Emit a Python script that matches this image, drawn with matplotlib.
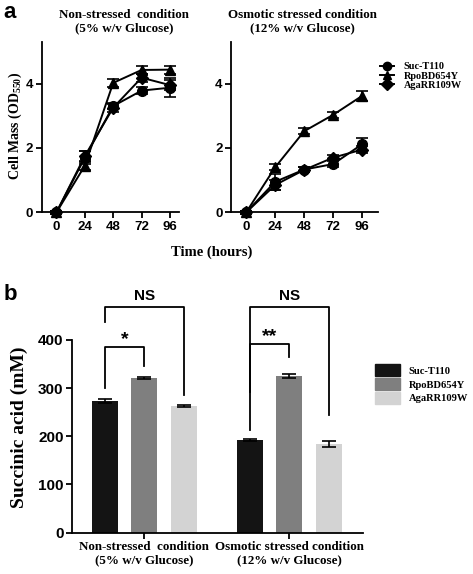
import numpy as np
import matplotlib
matplotlib.use("Agg")
from matplotlib import pyplot as plt
from matplotlib.patches import Patch
from matplotlib.lines import Line2D

plt.rcParams['mathtext.fontset'] = 'custom'
plt.rcParams['mathtext.rm'] = 'Liberation Serif:bold'
plt.rcParams['mathtext.default'] = 'rm'

SERIF = 'Liberation Serif'
SANS = 'Liberation Sans'

# growth curves (panel a)
hours = [0, 24, 48, 72, 96]
strains = ['Suc-T110', 'RpoBD654Y', 'AgaRR109W']
markers = ['o', '^', 'D']

non_mean = [[0, 1.70, 3.30, 3.78, 3.87],
            [0, 1.45, 4.02, 4.42, 4.43],
            [0, 1.75, 3.25, 4.18, 3.95]]
non_err = [[0.05, 0.20, 0.10, 0.10, 0.30],
           [0.05, 0.12, 0.12, 0.13, 0.12],
           [0.05, 0.15, 0.12, 0.12, 0.15]]
osm_mean = [[0, 0.95, 1.33, 1.50, 2.12],
            [0, 1.40, 2.52, 3.03, 3.62],
            [0, 0.85, 1.32, 1.70, 1.95]]
osm_err = [[0.05, 0.25, 0.08, 0.10, 0.20],
           [0.05, 0.10, 0.10, 0.10, 0.15],
           [0.05, 0.15, 0.08, 0.08, 0.12]]

# succinic acid (panel b)
conditions = ['Non-stressed  condition\n(5% w/v Glucose)',
              'Osmotic stressed condition\n(12% w/v Glucose)']
succ_mean = [[273, 192], [321, 326], [263, 184]]
succ_err = [[4, 2], [2, 4], [2, 6]]
bar_colors = ['#141414', '#7f7f7f', '#d3d3d3']

fig = plt.figure(figsize=(4.73, 5.74), dpi=100)


def style_axes(ax, ticksize):
    for s in ['top', 'right']:
        ax.spines[s].set_visible(False)
    for s in ['left', 'bottom']:
        ax.spines[s].set_linewidth(1.3)
    ax.tick_params(direction='out', width=1.3, length=4, labelsize=ticksize, pad=2)
    for lab in ax.get_xticklabels() + ax.get_yticklabels():
        lab.set_fontfamily(SANS)
        lab.set_fontweight('bold')


def growth(ax, means, errs, xmax):
    for i in range(3):
        ax.errorbar(hours, means[i], yerr=errs[i], color='black', marker=markers[i],
                    markersize=7 if markers[i] != 'D' else 6, lw=1.4,
                    elinewidth=1.2, capsize=4, capthick=1.2, clip_on=False)
    ax.set_xlim(-12.5, xmax)
    ax.set_ylim(0, 5.3)
    ax.set_xticks(hours)
    ax.set_yticks([0, 2, 4])
    style_axes(ax, 9.5)


ax1 = fig.add_axes([0.0881, 0.6300, 0.2903, 0.2975])
growth(ax1, non_mean, non_err, 103.6)
ax2 = fig.add_axes([0.4884, 0.6300, 0.3108, 0.2975])
growth(ax2, osm_mean, osm_err, 109)

fig.text(0.262, 0.984, 'Non-stressed  condition\n(5% w/v Glucose)', ha='center', va='top',
         family=SERIF, weight='bold', fontsize=9.4, linespacing=1.1)
fig.text(0.640, 0.984, 'Osmotic stressed condition\n(12% w/v Glucose)', ha='center', va='top',
         family=SERIF, weight='bold', fontsize=9.4, linespacing=1.1)
fig.text(0.032, 0.780, 'Cell Mass (OD$_{550}$)', rotation=90, ha='center', va='center',
         family=SERIF, weight='bold', fontsize=10)
fig.text(0.448, 0.561, 'Time (hours)', ha='center', va='center',
         family=SERIF, weight='bold', fontsize=10.5)
fig.text(0.008, 0.978, 'a', family=SANS, weight='bold', fontsize=16, va='center')
fig.text(0.008, 0.487, 'b', family=SANS, weight='bold', fontsize=16, va='center')

handles = [Line2D([], [], color='black', marker=m, markersize=6, lw=1.4) for m in markers]
fig.legend(handles, strains, loc='upper left', bbox_to_anchor=(0.803, 0.892), frameon=False,
           prop={'family': SERIF, 'weight': 'bold', 'size': 7.4}, handlelength=1.4,
           handletextpad=0.9, labelspacing=0.02, borderpad=0, borderaxespad=0)

# panel b
ax3 = fig.add_axes([0.1522, 0.0720, 0.6152, 0.3357])
spacing = 1.0
group_x = np.array([0, 3.67])
width = 0.66
for i in range(3):
    ax3.bar(group_x + (i - 1) * spacing, succ_mean[i], width, yerr=succ_err[i],
            color=bar_colors[i], error_kw=dict(elinewidth=1.2, capsize=5, capthick=1.2),
            label=strains[i])
ax3.set_xlim(-1.83, 5.53)
ax3.set_ylim(0, 400)
ax3.set_yticks([0, 100, 200, 300, 400])
ax3.set_xticks(group_x)
ax3.set_xticklabels(conditions)
style_axes(ax3, 11)
for lab in ax3.get_xticklabels():
    lab.set_fontfamily(SERIF)
    lab.set_fontsize(9.4)
    lab.set_linespacing(1.1)
fig.text(0.040, 0.256, 'Succinic acid (mM)', rotation=90, ha='center', va='center',
         family=SERIF, weight='bold', fontsize=14)


def bracket(ax, x1, x2, y1, y2, top, text, ty):
    ax.plot([x1, x1, x2, x2], [y1, top, top, y2], color='black', lw=1.3, clip_on=False)
    ax.text((x1 + x2) / 2, ty, text, ha='center', va='center', family=SANS,
            weight='bold', fontsize=11 if text == 'NS' else 14, clip_on=False)


g1, g2 = group_x
bracket(ax3, g1 - 1, g1 + 1, 438, 286, 469, 'NS', 492)
bracket(ax3, g1 - 1, g1, 301, 346, 386, '*', 400)
bracket(ax3, g2 - 1, g2 + 1, 292, 244, 469, 'NS', 492)
bracket(ax3, g2 - 1, g2, 214, 365, 391, '**', 408)

fig.legend([Patch(color=c) for c in bar_colors], strains, loc='upper left',
           bbox_to_anchor=(0.793, 0.3650), frameon=False,
           prop={'family': SERIF, 'weight': 'bold', 'size': 7.6}, handlelength=2.4,
           handleheight=1.3, handletextpad=0.8, labelspacing=0.22, borderpad=0,
           borderaxespad=0)

fig.savefig('out.png', dpi=100)
